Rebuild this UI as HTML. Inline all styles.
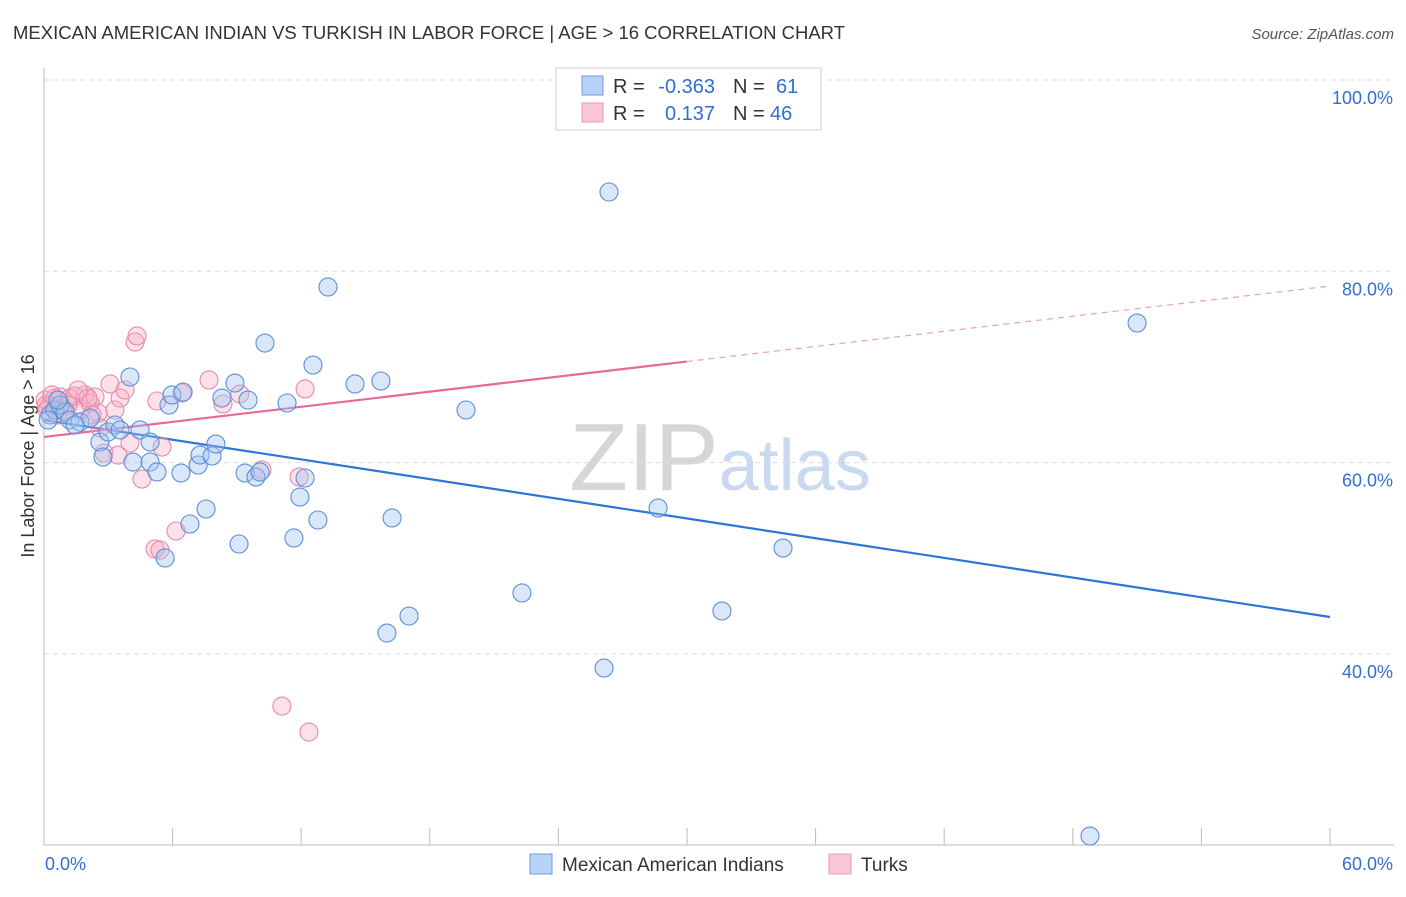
<!DOCTYPE html>
<html><head><meta charset="utf-8"><style>
body{margin:0;background:#fff;font-family:"Liberation Sans",sans-serif}
svg text{font-family:"Liberation Sans",sans-serif}
</style></head><body>
<svg id="chart" width="1406" height="892" xmlns="http://www.w3.org/2000/svg">
<text x="13" y="39" font-size="18" fill="#333" textLength="832" lengthAdjust="spacingAndGlyphs">MEXICAN AMERICAN INDIAN VS TURKISH IN LABOR FORCE | AGE &gt; 16 CORRELATION CHART</text>
<text x="1394" y="39" font-size="15" fill="#555" text-anchor="end" font-style="italic">Source: ZipAtlas.com</text>
<text x="720" y="490" font-size="96" text-anchor="middle" fill="#ddd" font-family="Liberation Serif"><tspan fill="#d6d6d6">ZIP</tspan><tspan fill="#c9d9ef" font-family="Liberation Sans" font-size="72">atlas</tspan></text>
<text transform="translate(34,456) rotate(-90)" font-size="18" fill="#333" text-anchor="middle">In Labor Force | Age &gt; 16</text>
<g id="grid"></g><g id="axes"></g><g id="lines"></g><g id="pts"></g>
<g>
<rect x="556" y="68" width="265" height="62" fill="#fff" stroke="#ccc"/>
<rect x="582" y="76" width="21" height="19" fill="#b8d3f7" stroke="#6d9ae0"/>
<rect x="582" y="103" width="21" height="19" fill="#f9c6d5" stroke="#ec9ab3"/>
<text x="613" y="93" font-size="20" fill="#333">R =</text>
<text x="715" y="93" font-size="20" fill="#3070d0" text-anchor="end">-0.363</text>
<text x="733" y="93" font-size="20" fill="#333">N =</text>
<text x="776" y="93" font-size="20" fill="#3070d0">61</text>
<text x="613" y="120" font-size="20" fill="#333">R =</text>
<text x="715" y="120" font-size="20" fill="#3070d0" text-anchor="end">0.137</text>
<text x="733" y="120" font-size="20" fill="#333">N =</text>
<text x="770" y="120" font-size="20" fill="#3070d0">46</text>
</g>
<g>
<rect x="530" y="854" width="22" height="20" fill="#b8d3f7" stroke="#6d9ae0"/>
<text x="562" y="871" font-size="19" fill="#333">Mexican American Indians</text>
<rect x="829" y="854" width="22" height="20" fill="#f9c6d5" stroke="#ec9ab3"/>
<text x="861" y="871" font-size="19" fill="#333">Turks</text>
</g>
</svg>
<script>
const yTicks=[40,60,80,100];
const xTickLabels=["0.0%","60.0%"];
const blueX=[0.28,0.51,0.75,0.98,1.21,1.68,2.15,2.61,2.75,2.99,3.31,3.55,4.01,4.15,4.48,4.95,4.95,5.27,5.65,5.83,5.97,6.39,6.49,6.81,7.19,7.28,7.56,7.84,8.02,8.30,8.91,9.10,9.38,9.52,9.89,10.08,10.31,11.34,11.66,11.94,12.18,12.55,12.78,13.25,14.51,15.72,16.00,16.24,17.03,19.69,22.30,26.13,26.36,28.65,31.63,34.48,51.00,48.80,0.19,0.65,1.45];
const blueY=[64.98,65.5,66.02,65.29,64.45,64.24,64.66,62.15,60.58,63.2,63.93,63.41,68.95,60.06,63.41,62.15,60.06,59.02,50.03,66.02,67.07,58.91,67.38,53.58,59.75,60.79,55.15,60.69,61.94,66.75,68.32,51.49,58.91,66.54,58.49,59.02,72.5,66.23,52.12,56.4,58.39,70.2,54.0,78.36,68.22,68.53,42.18,54.21,43.96,65.5,46.37,38.52,88.29,55.25,44.48,51.07,74.59,20.96,64.45,66.54,63.93];
const pinkX=[0.05,0.28,0.51,0.75,0.98,1.21,1.45,1.68,1.91,2.15,2.38,2.52,2.61,2.8,3.08,3.31,3.45,3.55,3.78,4.01,4.25,4.34,4.57,5.18,5.27,5.41,5.51,6.16,6.44,7.7,8.35,9.14,10.17,11.1,11.9,12.18,12.36,29.81,0.1,0.14,0.37,1.12,2.05,2.24,0.65,1.59];
const pinkY=[66.54,66.02,66.75,66.86,65.5,66.75,66.96,65.5,67.07,66.23,66.86,65.19,63.62,61.0,68.22,65.5,60.79,66.75,67.59,62.05,72.61,73.24,58.28,50.97,66.44,50.86,61.63,52.85,67.28,68.64,66.13,67.17,59.23,34.55,58.49,67.7,31.83,99.8,66.02,65.5,67.07,66.02,66.75,64.98,64.98,67.59];
const blueLine=[64.45,43.86];
const pinkLine=[62.68,78.46];
const pinkSolidEnd=29.98;
const X=v=>44+v/60*1286, Y=v=>80+(100-v)/20*191.3;
const NS="http://www.w3.org/2000/svg";
function mk(t,a,p){const e=document.createElementNS(NS,t);for(const k in a)e.setAttribute(k,a[k]);document.getElementById(p).appendChild(e);return e;}
yTicks.forEach(t=>{
 const l=mk('line',{x1:44,x2:1394,y1:Y(t),y2:Y(t),stroke:'#ddd','stroke-dasharray':'5,4'},'grid');
 
 
 const tx=mk('text',{x:1393,y:Y(t)+24,'font-size':18,fill:'#3070d0','text-anchor':'end'},'grid');
 tx.textContent=t.toFixed(1)+'%';
 
 
});
const ax=mk('line',{x1:44,x2:1394,y1:845,y2:845,stroke:'#bbb'},'axes');


const ay=mk('line',{x1:44,x2:44,y1:68,y2:845,stroke:'#bbb'},'axes');


for(let i=0;i<=10;i++){const t=mk('line',{x1:X(i*6),x2:X(i*6),y1:828,y2:845,stroke:'#bbb'},'axes');
 
 }
xTickLabels.forEach((s,i)=>{const t=mk('text',{x:i?1393:45,y:870,'font-size':18,fill:'#3070d0','text-anchor':i?'end':'start'},'axes');t.textContent=s;
 
 });
function pts(xs,ys,fill,stroke,name){xs.forEach((x,i)=>{const c=mk('circle',{cx:X(x),cy:Y(ys[i]),r:9,fill:fill,stroke:stroke,'stroke-width':1.1},'pts');
 
 });}
pts(pinkX,pinkY,'rgba(246,170,195,0.35)','#e98aa8','turks-point');
pts(blueX,blueY,'rgba(160,196,240,0.4)','#5b8fd8','mexican-american-indian-point');
const bl=mk('line',{x1:X(0),y1:Y(blueLine[0]),x2:X(60),y2:Y(blueLine[1]),stroke:'#2f74d8','stroke-width':2.2},'lines');


const pm=pinkLine[0]+(pinkLine[1]-pinkLine[0])*pinkSolidEnd/60;
const pl=mk('line',{x1:X(0),y1:Y(pinkLine[0]),x2:X(pinkSolidEnd),y2:Y(pm),stroke:'#e8689a','stroke-width':2.2},'lines');


const pd=mk('line',{x1:X(pinkSolidEnd),y1:Y(pm),x2:X(60),y2:Y(pinkLine[1]),stroke:'#e8a0bb','stroke-width':1.2,'stroke-dasharray':'6,5'},'lines');


</script>
</body></html>
